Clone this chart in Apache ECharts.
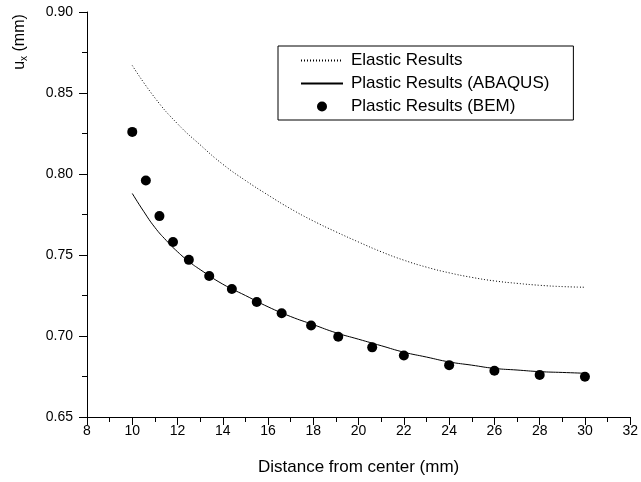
<!DOCTYPE html>
<html>
<head>
<meta charset="utf-8">
<script src="https://cdn.jsdelivr.net/npm/echarts@6/dist/echarts.min.js"></script>
<style>
  html, body { margin: 0; padding: 0; background: #fff; }
  #chart { width: 641px; height: 482px; }
</style>
</head>
<body>
<div id="chart"></div>
<script>
// elastic solution (dotted)
const elasticX = [10, 11, 12, 13, 14, 15, 16, 17, 18, 19, 20, 21, 22, 23, 24, 25, 26, 27, 28, 29, 30];
const elasticY = [0.867, 0.847, 0.831, 0.818, 0.806, 0.796, 0.787, 0.7785, 0.771, 0.7643, 0.758,
                  0.752, 0.7468, 0.7425, 0.739, 0.7362, 0.734, 0.7325, 0.7313, 0.7305, 0.7301];

// plastic, ABAQUS (solid)
const abaqusX = [10, 10.5, 11, 11.5, 12, 12.5, 13, 14, 15, 16, 17, 18, 19, 20, 21, 22, 23, 24, 25, 26, 27, 28, 29, 30];
const abaqusY = [0.788, 0.777, 0.767, 0.759, 0.752, 0.746, 0.741, 0.732, 0.725, 0.718, 0.712, 0.707,
                 0.702, 0.698, 0.694, 0.690, 0.687, 0.684, 0.682, 0.680, 0.679, 0.678, 0.6775, 0.677];

// plastic, BEM (dots)
const bemX = [10, 10.6, 11.2, 11.8, 12.5, 13.4, 14.4, 15.5, 16.6, 17.9, 19.1, 20.6, 22, 24, 26, 28, 30];
const bemY = [0.826, 0.796, 0.774, 0.758, 0.747, 0.737, 0.729, 0.721, 0.714, 0.7065, 0.6995,
              0.693, 0.688, 0.682, 0.6785, 0.676, 0.6748];

const zip = (xs, ys) => xs.map((x, i) => [x, ys[i]]);

let myChart = echarts.init(document.getElementById('chart'));
const font = 'Arial, "Liberation Sans", sans-serif';

let option = {
  animation: false,
  textStyle: { fontFamily: font, color: '#000' },
  grid: { left: 87, right: 9, top: 12, bottom: 65 },
  legend: {
    orient: 'vertical',
    left: 278,
    top: 46,
    padding: [6, 24, 5, 22],
    itemGap: 6,
    itemWidth: 42,
    itemHeight: 10,
    borderColor: '#000',
    borderWidth: 1,
    textStyle: { fontSize: 17, fontFamily: font, color: '#000', padding: [0, 0, 0, 3] },
    data: [
      { name: 'Elastic Results', itemStyle: { opacity: 0 } },
      { name: 'Plastic Results (ABAQUS)', itemStyle: { opacity: 0 } },
      { name: 'Plastic Results (BEM)' }
    ]
  },
  xAxis: {
    type: 'value',
    min: 8, max: 32, interval: 2,
    name: 'Distance from center (mm)',
    nameLocation: 'middle',
    nameGap: 42,
    nameTextStyle: { fontSize: 17, fontFamily: font, color: '#000' },
    axisLine: { lineStyle: { color: '#000', width: 1 } },
    axisTick: { length: 8, lineStyle: { color: '#000' } },
    minorTick: { show: true, splitNumber: 2, length: 5, lineStyle: { color: '#000' } },
    axisLabel: { fontSize: 14, color: '#000', margin: 7 },
    splitLine: { show: false }
  },
  yAxis: {
    type: 'value',
    min: 0.65, max: 0.90, interval: 0.05,
    axisLine: { show: true, lineStyle: { color: '#000', width: 1 } },
    axisTick: { show: true, length: 8, lineStyle: { color: '#000' } },
    minorTick: { show: true, splitNumber: 2, length: 5, lineStyle: { color: '#000' } },
    axisLabel: { fontSize: 14, color: '#000', margin: 14, formatter: v => v.toFixed(2) },
    splitLine: { show: false }
  },
  graphic: [{
    type: 'text',
    x: 20, y: 42,
    rotation: Math.PI / 2,
    style: {
      text: 'u{sub|x} (mm)',
      font: '16px ' + font,
      fill: '#000',
      align: 'center',
      verticalAlign: 'middle',
      rich: {
        sub: { fontSize: 10, fontFamily: font, fill: '#000', padding: [9, 0, 0, 0] }
      }
    }
  }],
  series: [
    {
      name: 'Elastic Results',
      type: 'line',
      smooth: true,
      symbol: 'none',
      data: zip(elasticX, elasticY),
      lineStyle: { color: '#000', width: 1, type: [1, 2] },
      itemStyle: { color: '#000' }
    },
    {
      name: 'Plastic Results (ABAQUS)',
      type: 'line',
      smooth: true,
      symbol: 'none',
      data: zip(abaqusX, abaqusY),
      lineStyle: { color: '#000', width: 1 },
      itemStyle: { color: '#000' }
    },
    {
      name: 'Plastic Results (BEM)',
      type: 'scatter',
      symbol: 'circle',
      symbolSize: 10,
      data: zip(bemX, bemY),
      itemStyle: { color: '#000', opacity: 1 }
    }
  ]
};
myChart.setOption(option);
</script>
</body>
</html>
